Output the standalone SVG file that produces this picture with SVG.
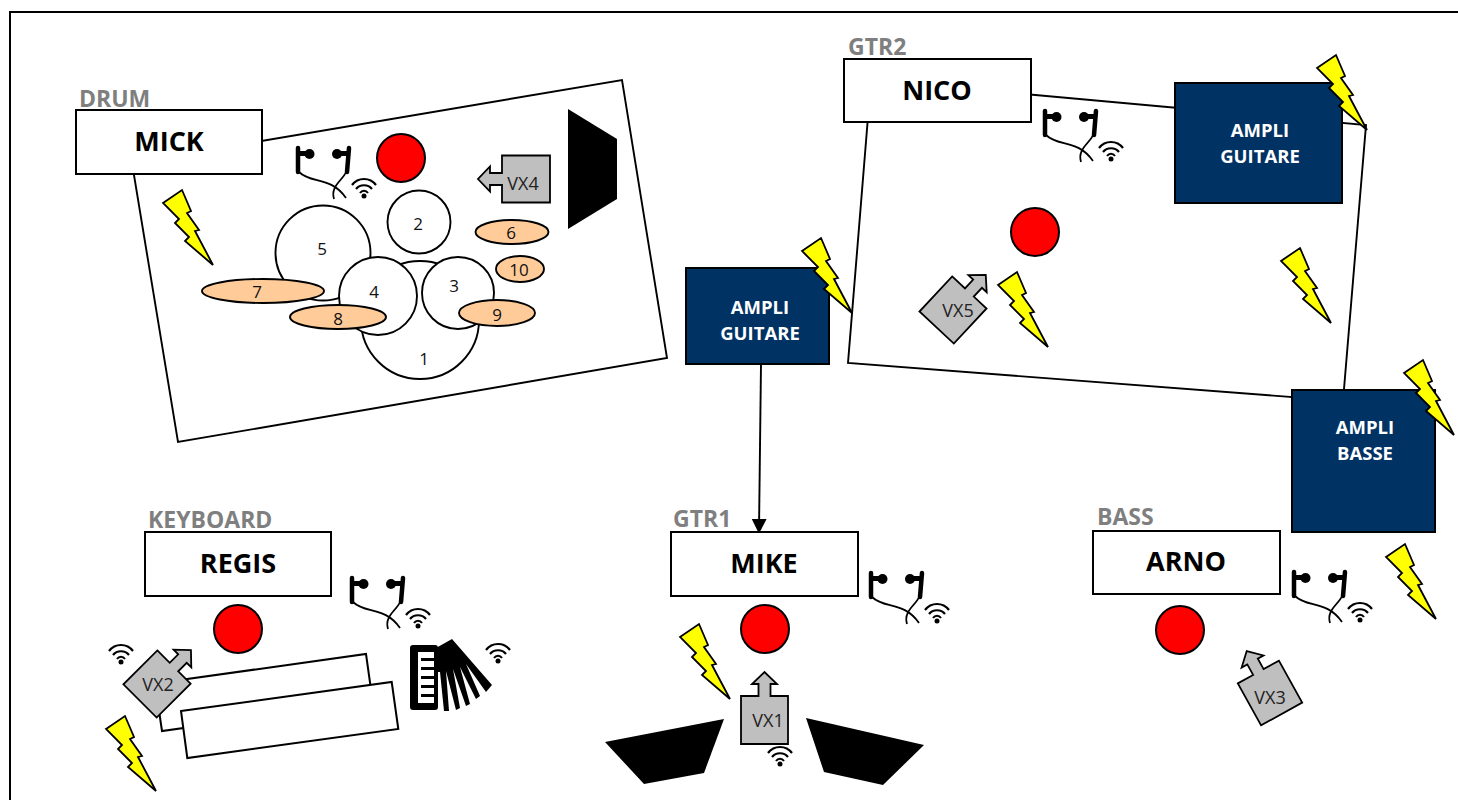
<svg xmlns="http://www.w3.org/2000/svg" width="1458" height="800" viewBox="0 0 1458 800">
<style>
text{font-family:"Open Sans","Liberation Sans",sans-serif;text-anchor:middle;dominant-baseline:central}
.box{fill:#fff;stroke:#000;stroke-width:2}
.name{font-size:27px;font-weight:700;fill:#000}
.role{font-size:23px;font-weight:700;fill:#7f7f7f;text-anchor:start}
.amp{fill:#003264;stroke:#000;stroke-width:2}
.amptxt{font-size:18.500px;font-weight:700;fill:#fff}
.red{fill:#f00;stroke:#000;stroke-width:2}
.drum{fill:#fff;stroke:#000;stroke-width:1.900}
.cym{fill:#fc9;stroke:#000;stroke-width:1.900}
.num{font-size:17px;fill:#111}
.vxt{font-size:18px;fill:#222}
.line{fill:none;stroke:#000;stroke-width:1.900}
.blk{fill:#000}
</style>
<defs>
<marker id="ah" markerWidth="8" markerHeight="8" refX="6" refY="4" orient="auto" markerUnits="strokeWidth" viewBox="0 0 8 8"><path d="M0,0L8,4L0,8Z" fill="#000"/></marker>
<polygon id="bolt" points="0,13 19,0 28,21 24,23 36,40 32,41 50,75 22,51 26,47 12,33 16,29" fill="#ff0" stroke="#000" stroke-width="1.800"/>
<g id="wifi" fill="none" stroke="#000">
<path d="M-12,-7C-6,-15 6,-15 12,-7" stroke-width="2.200"/>
<path d="M-8,-3C-4,-8 4,-8 8,-3" stroke-width="2.200"/>
<path d="M-4,1C-2,-2 2,-2 4,1" stroke-width="2"/>
<circle cx="0" cy="4" r="2.500" fill="#000" stroke="none"/>
</g>
<g id="ear">
<path d="M1,0L1,24M52,0L50,24" stroke="#000" stroke-width="4.500" stroke-linecap="round" fill="none"/>
<rect x="1" y="3" width="10" height="5" fill="#000"/><rect x="42" y="3" width="10" height="5" fill="#000"/>
<circle cx="12.500" cy="6" r="5" fill="#000"/><circle cx="40" cy="6" r="5" fill="#000"/>
<path d="M2,24C14,36 34,28 49,50M49,24C46,32 33,38 37,51" fill="none" stroke="#000" stroke-width="1.800"/>
<use href="#wifi" x="67" y="44"/>
</g>
<path id="vx" d="M-23.500,-24H-6V-36H-12.500L0,-48L12.500,-36H6V-24H23.500V24H-23.500Z" fill="#bfbfbf" stroke="#000" stroke-width="1.800"/>
</defs>

<g id="frame"><path d="M10,800V12H1458" fill="none" stroke="#000" stroke-width="2"/></g>

<g id="stage-shapes">
<polygon id="drum-riser" class="line" points="132,163 622,80 667,358 178,442"/>
<polygon id="gtr2-riser" class="line" points="871,80 1366,125 1343,401 848,363"/>
</g>

<g id="connectors"><path d="M761,364L759,530" class="line" marker-end="url(#ah)"/></g>

<g id="drumkit">
<circle class="drum" cx="420" cy="320" r="59"/>
<circle class="drum" cx="323" cy="253" r="47.500"/>
<circle class="drum" cx="419" cy="222" r="31.500"/>
<circle class="drum" cx="378" cy="296" r="39"/>
<circle class="drum" cx="458" cy="293" r="36"/>
<ellipse class="cym" cx="512" cy="232" rx="36.500" ry="12"/>
<ellipse class="cym" cx="520" cy="269" rx="24" ry="13"/>
<ellipse class="cym" cx="497" cy="313" rx="38" ry="13"/>
<ellipse class="cym" cx="338" cy="317" rx="48" ry="12"/>
<ellipse class="cym" cx="263" cy="291" rx="61" ry="12"/>
<text class="num" x="424" y="358">1</text><text class="num" x="418" y="223">2</text><text class="num" x="454" y="285">3</text><text class="num" x="374" y="291">4</text><text class="num" x="322" y="248">5</text><text class="num" x="511" y="232">6</text><text class="num" x="257" y="291">7</text><text class="num" x="338" y="318">8</text><text class="num" x="497" y="314">9</text><text class="num" x="519" y="269">10</text>
</g>

<g id="mick"><rect class="box" x="76" y="110" width="186" height="64"/><text class="name" x="169" y="140">MICK</text><text class="role" x="79" y="98">DRUM</text></g>
<g id="nico"><rect class="box" x="844" y="59" width="187" height="63"/><text class="name" x="937" y="89">NICO</text><text class="role" x="848" y="46">GTR2</text></g>
<g id="regis"><rect class="box" x="145" y="532" width="186" height="64"/><text class="name" x="238" y="562">REGIS</text><text class="role" x="148" y="519">KEYBOARD</text></g>
<g id="mike"><rect class="box" x="671" y="532" width="187" height="64"/><text class="name" x="764" y="562">MIKE</text><text class="role" x="673" y="518">GTR1</text></g>
<g id="arno"><rect class="box" x="1093" y="531" width="187" height="63"/><text class="name" x="1186" y="560">ARNO</text><text class="role" x="1097" y="516">BASS</text></g>

<g id="amp-left"><rect class="amp" x="686" y="268" width="143" height="96"/><text class="amptxt" x="760" y="306">AMPLI</text><text class="amptxt" x="760" y="332">GUITARE</text></g>
<g id="amp-right"><rect class="amp" x="1175" y="83" width="167" height="120"/><text class="amptxt" x="1260" y="129">AMPLI</text><text class="amptxt" x="1260" y="155">GUITARE</text></g>
<g id="amp-bass"><rect class="amp" x="1292" y="390" width="143" height="142"/><text class="amptxt" x="1365" y="426">AMPLI</text><text class="amptxt" x="1365" y="452">BASSE</text></g>

<g id="monitors">
<circle class="red" cx="401" cy="158" r="24"/><circle class="red" cx="1035" cy="232" r="24"/><circle class="red" cx="238" cy="629" r="24"/><circle class="red" cx="765" cy="629" r="24"/><circle class="red" cx="1180" cy="630" r="24"/>
</g>

<g id="earphones">
<use href="#ear" x="297" y="148"/><use href="#ear" x="1044" y="111"/><use href="#ear" x="351" y="578"/><use href="#ear" x="870" y="573"/><use href="#ear" x="1293" y="572"/>
<use href="#wifi" x="498" y="657"/><use href="#wifi" x="121" y="658"/><use href="#wifi" x="780" y="760"/>
</g>

<g id="speakers">
<polygon class="blk" points="568,109 617,139 617,199 568,229"/>
<polygon class="blk" points="605,742 724,719 704,773 644,784"/>
<polygon class="blk" points="806,718 924,745 883,785 824,772"/>
</g>

<g id="keyboards">
<polygon class="box" points="155,683.500 366,654 372.700,701.500 162,731"/>
<polygon class="box" points="181,711 391.700,682 398.300,729 187.300,758"/>
</g>

<g id="accordion">
<rect x="410" y="645" width="28" height="65" rx="3" class="blk"/>
<rect x="418" y="652" width="20" height="51" fill="#fff"/>
<path d="M421,658H438V661H421ZM421,667H438V670H421ZM421,676H438V679H421ZM421,685H438V688H421ZM421,694H438V697H421Z" class="blk"/>
<rect x="434" y="650" width="4" height="54" class="blk"/>
<path class="blk" d="M436,648L452,639L492,685L486,692L466,664L480,696L476,699L460,667L470,704L466,706L453,669L460,708L456,710L446,671L449,711L444,711L440,672L436,672Z"/>
</g>

<g id="vx-packs">
<g id="vx1"><use href="#vx" transform="translate(764.500,720)"/><text class="vxt" x="768" y="720">VX1</text></g>
<g id="vx2"><use href="#vx" transform="translate(157,684) rotate(45)"/><text class="vxt" x="158" y="684">VX2</text></g>
<g id="vx3"><use href="#vx" transform="translate(1270,693) rotate(-29)"/><text class="vxt" x="1270" y="697">VX3</text></g>
<g id="vx4"><use href="#vx" transform="translate(526,179) rotate(-90)"/><text class="vxt" x="523" y="183">VX4</text></g>
<g id="vx5"><use href="#vx" transform="translate(953,310) rotate(43)"/><text class="vxt" x="958" y="310">VX5</text></g>
</g>

<g id="bolts">
<use href="#bolt" x="163" y="190"/><use href="#bolt" x="802" y="238"/><use href="#bolt" x="1317" y="55"/><use href="#bolt" x="1281" y="248"/><use href="#bolt" x="998" y="272"/><use href="#bolt" x="1404" y="360"/><use href="#bolt" x="1386" y="544"/><use href="#bolt" x="680" y="624"/><use href="#bolt" x="106" y="716"/>
</g>
</svg>
